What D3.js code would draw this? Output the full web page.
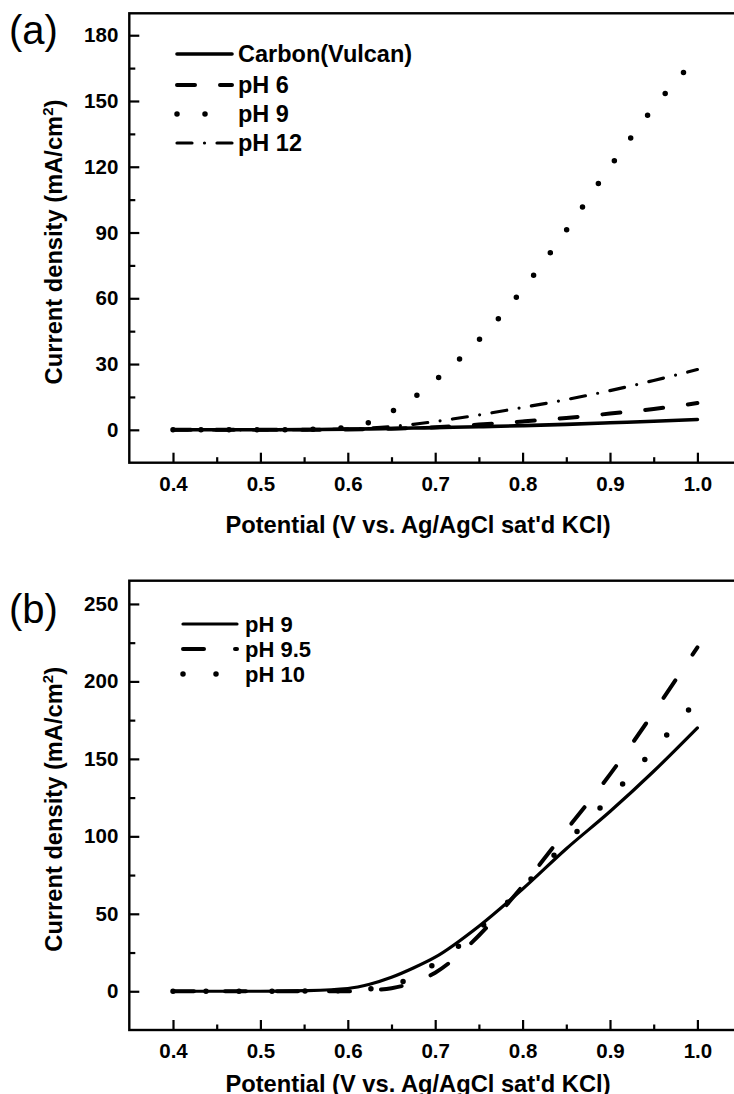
<!DOCTYPE html>
<html>
<head>
<meta charset="utf-8">
<script src="https://cdn.jsdelivr.net/npm/d3@7"></script>
<style>
  body { margin: 0; background: #fff; }
  text { font-family: Arial, "Liberation Sans", sans-serif; }
</style>
</head>
<body>
<script>
// potentials (V) where the curves were read
var potential = [0.40, 0.45, 0.50, 0.55, 0.60, 0.625, 0.65, 0.675, 0.70, 0.75, 0.80, 0.85, 0.90, 0.95, 1.00];

// panel (a) current densities, mA/cm2
var carbonA = [0, 0, 0, 0.1, 0.3, 0.45, 0.6, 0.8, 1.0, 1.4, 1.9, 2.5, 3.2, 3.9, 4.7];
var ph6A    = [0, 0, 0, 0, 0.2, 0.3, 0.5, 0.8, 1.2, 2.4, 3.8, 5.4, 7.4, 9.5, 12.2];
var ph9A    = [0, 0, 0, 0.2, 1, 3.5, 8.3, 14.6, 22.5, 41, 64, 91, 120, 147, 170];
var ph12A   = [0, 0, 0, 0.1, 0.3, 0.8, 1.5, 2.5, 3.8, 6.8, 10.2, 13.8, 17.9, 22.5, 27.5];

// panel (b)
var ph9B  = [0, 0, 0, 0.4, 1.8, 4.5, 9, 15, 22, 42, 66, 92, 116, 142, 170];
var ph95B = [0, 0, 0, 0, 0, 0.5, 2, 5.5, 12, 36, 68, 104, 140, 180, 222];
var ph10B = [0, 0, 0, 0.1, 0.5, 1.5, 4, 9, 18, 40, 67, 96, 125, 156, 188];

var xMajor = [0.4, 0.5, 0.6, 0.7, 0.8, 0.9, 1.0];
var xMinor = [0.45, 0.55, 0.65, 0.75, 0.85, 0.95];
var yMajorA = [0, 30, 60, 90, 120, 150, 180];
var yMinorA = [15, 45, 75, 105, 135, 165];
var yMajorB = [0, 50, 100, 150, 200, 250];
var yMinorB = [25, 75, 125, 175, 225];

var namesA = ["Carbon(Vulcan)", "pH 6", "pH 9", "pH 12"];
var namesB = ["pH 9", "pH 9.5", "pH 10"];

var xTitle = "Potential (V vs. Ag/AgCl sat'd KCl)";

// line looks
var styles = {
  solidA:  { w: 3.6, dash: null },
  dashA:   { w: 4, dash: "18,25" },
  dotA:    { w: 5.5, dash: "0,28" },
  dashdot: { w: 3.2, dash: "15,12.5,0,12.5" },
  solidB:  { w: 3.2, dash: null },
  dashB:   { w: 4, dash: "21,31" },
  dotB:    { w: 5.5, dash: "0,33" }
};

var width = 734, height = 1094;
var svg = d3.select("body").append("svg")
    .attr("width", width)
    .attr("height", height);

var x = d3.scaleLinear().domain([0.35, 1.05]).range([129.3, 741.1]);

function drawPanel(p) {
  var g = svg.append("g");
  var y = d3.scaleLinear().domain(p.yDomain).range([p.bottom, p.top]);

  var clipId = "clip" + p.key;
  svg.append("clipPath").attr("id", clipId)
    .append("rect")
      .attr("x", x(0.35)).attr("y", p.top)
      .attr("width", x(1.05) - x(0.35)).attr("height", p.bottom - p.top);

  var line = d3.line()
      .x(function(d) { return x(d[0]); })
      .y(function(d) { return y(d[1]); })
      .curve(d3.curveMonotoneX);

  p.series.forEach(function(s) {
    var pts = potential.map(function(v, i) { return [v, s.values[i]]; });
    g.append("path")
      .attr("clip-path", "url(#" + clipId + ")")
      .attr("d", line(pts))
      .attr("fill", "none")
      .attr("stroke", "#000")
      .attr("stroke-width", s.style.w)
      .attr("stroke-linecap", "round")
      .attr("stroke-linejoin", "round")
      .attr("stroke-dasharray", s.style.dash);
  });

  // minor ticks first, then major with labels
  g.append("g")
    .attr("transform", "translate(0," + p.bottom + ")")
    .call(d3.axisBottom(x).tickValues(xMinor).tickSize(-5.5).tickSizeOuter(0).tickFormat(""))
    .call(function(a) { a.select(".domain").remove(); });
  g.append("g")
    .attr("transform", "translate(" + x(0.35) + ",0)")
    .call(d3.axisLeft(y).tickValues(p.yMinor).tickSize(-6).tickSizeOuter(0).tickFormat(""))
    .call(function(a) { a.select(".domain").remove(); });

  var xa = g.append("g")
    .attr("transform", "translate(0," + p.bottom + ")")
    .call(d3.axisBottom(x).tickValues(xMajor).tickSize(-10).tickSizeOuter(0)
      .tickPadding(13.5).tickFormat(d3.format(".1f")));
  var ya = g.append("g")
    .attr("transform", "translate(" + x(0.35) + ",0)")
    .call(d3.axisLeft(y).tickValues(p.yMajor).tickSize(-10).tickSizeOuter(0).tickPadding(11));

  [xa, ya].forEach(function(a) {
    a.select(".domain").remove();
    a.selectAll("text")
      .style("font-size", "20.5px")
      .style("font-weight", "bold")
      .attr("fill", "#000");
  });
  g.selectAll(".tick line").attr("stroke", "#000").attr("stroke-width", 2.2);

  // frame
  g.append("rect")
    .attr("x", x(0.35)).attr("y", p.top)
    .attr("width", x(1.05) - x(0.35)).attr("height", p.bottom - p.top)
    .attr("fill", "none")
    .attr("stroke", "#000")
    .attr("stroke-width", 2.4);

  g.append("text")
    .attr("x", 418)
    .attr("y", p.bottom + p.titleDy)
    .attr("text-anchor", "middle")
    .style("font-size", "23.7px")
    .style("font-weight", "bold")
    .text(xTitle);

  var yt = g.append("text")
    .attr("transform", "translate(62," + ((p.top + p.bottom) / 2 + 4) + ") rotate(-90)")
    .attr("text-anchor", "middle")
    .style("font-size", "23.7px")
    .style("font-weight", "bold");
  yt.append("tspan").text("Current density (mA/cm");
  yt.append("tspan").attr("dy", -9).style("font-size", "15px").text("2");
  yt.append("tspan").attr("dy", 9).text(")");

  g.append("text")
    .attr("x", 9)
    .attr("y", p.labelY)
    .style("font-size", "40px")
    .text(p.label);

  // legend
  p.series.forEach(function(s, i) {
    var ly = p.legend.rows[i];
    g.append("line")
      .attr("x1", p.legend.x0).attr("x2", p.legend.x1)
      .attr("y1", ly).attr("y2", ly)
      .attr("stroke", "#000")
      .attr("stroke-width", s.style.w)
      .attr("stroke-linecap", "round")
      .attr("stroke-dasharray", s.style.dash);
    g.append("text")
      .attr("x", p.legend.tx)
      .attr("y", ly + 8)
      .style("font-size", p.legend.fs)
      .style("font-weight", "bold")
      .text(s.name);
  });
}

drawPanel({
  key: "a", label: "(a)", labelY: 44, titleDy: 70,
  top: 13.3, bottom: 462.7, yDomain: [-15, 190],
  yMajor: yMajorA, yMinor: yMinorA,
  legend: { x0: 177, x1: 232, tx: 238, fs: "23.5px", rows: [54, 85, 114, 143] },
  series: [
    { name: namesA[0], values: carbonA, style: styles.solidA },
    { name: namesA[1], values: ph6A, style: styles.dashA },
    { name: namesA[2], values: ph9A, style: styles.dotA },
    { name: namesA[3], values: ph12A, style: styles.dashdot }
  ]
});

drawPanel({
  key: "b", label: "(b)", labelY: 623, titleDy: 62,
  top: 580.7, bottom: 1030, yDomain: [-25, 265],
  yMajor: yMajorB, yMinor: yMinorB,
  legend: { x0: 183, x1: 237, tx: 245, fs: "22px", rows: [624, 649, 674] },
  series: [
    { name: namesB[0], values: ph9B, style: styles.solidB },
    { name: namesB[1], values: ph95B, style: styles.dashB },
    { name: namesB[2], values: ph10B, style: styles.dotB }
  ]
});
</script>
</body>
</html>
